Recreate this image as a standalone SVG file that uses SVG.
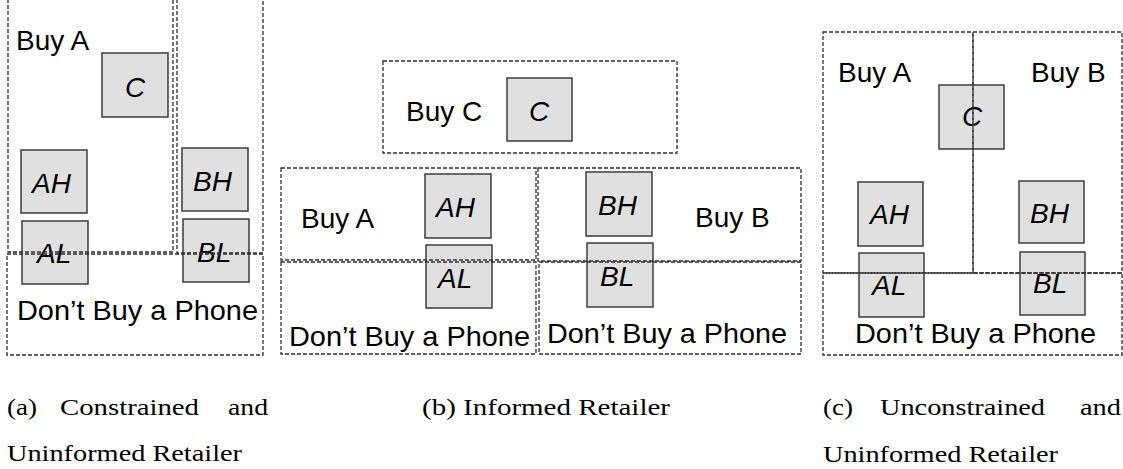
<svg xmlns="http://www.w3.org/2000/svg" width="1123" height="469" viewBox="0 0 1123 469">
<style>
.r{fill:none;stroke:#2e2e2e;stroke-width:1.3;stroke-dasharray:4 2}
.n{fill:#e0e0e0;stroke:#3c3c3c;stroke-width:1.5}
.t{font-family:"Liberation Sans",Arial,sans-serif;font-size:28px;fill:#000}
.i{font-family:"Liberation Sans",Arial,sans-serif;font-size:28px;font-style:italic;fill:#000}
.c{font-family:"Liberation Serif","Times New Roman",serif;font-size:24px;fill:#000}
</style>
<rect width="1123" height="469" fill="#fff"/>
<g id="connectors"/>

<!-- Panel (a) nodes -->
<g id="a-C"><rect class="n" x="102" y="53" width="66" height="64"/><text class="i" x="135" y="97" text-anchor="middle">C</text></g>
<g id="a-AH"><rect class="n" x="21" y="150" width="66" height="63"/><text class="i" x="32" y="193">AH</text></g>
<g id="a-BH"><rect class="n" x="182" y="148" width="66" height="63"/><text class="i" x="193" y="191">BH</text></g>
<g id="a-AL"><rect class="n" x="22" y="221" width="66" height="63"/><text class="i" x="37" y="263">AL</text></g>
<g id="a-BL"><rect class="n" x="183" y="219" width="66" height="63"/><text class="i" x="197" y="262">BL</text></g>
<!-- Panel (a) regions -->
<g id="a-buyA"><rect class="r" x="8" y="-3" width="165" height="255"/><text class="t" x="16" y="50">Buy A</text></g>
<g id="a-buyB"><rect class="r" x="177" y="-3" width="86" height="256"/></g>
<g id="a-dont"><rect class="r" x="7" y="254" width="256" height="101"/><text class="t" x="17" y="320" textLength="241" lengthAdjust="spacingAndGlyphs">Don’t Buy a Phone</text></g>

<!-- Panel (b) nodes -->
<g id="b-C"><rect class="n" x="507" y="78" width="65" height="63"/><text class="i" x="539" y="121" text-anchor="middle">C</text></g>
<g id="b-AH"><rect class="n" x="425" y="174" width="66" height="64"/><text class="i" x="436" y="217">AH</text></g>
<g id="b-AL"><rect class="n" x="426" y="245" width="66" height="63"/><text class="i" x="438" y="288">AL</text></g>
<g id="b-BH"><rect class="n" x="586" y="172" width="66" height="64"/><text class="i" x="598" y="215">BH</text></g>
<g id="b-BL"><rect class="n" x="587" y="243" width="66" height="64"/><text class="i" x="600" y="286">BL</text></g>
<!-- Panel (b) regions -->
<g id="b-buyC"><rect class="r" x="383" y="61" width="294" height="92"/><text class="t" x="406" y="121">Buy C</text></g>
<g id="b-buyA"><rect class="r" x="281" y="168" width="255" height="92"/><text class="t" x="301" y="228">Buy A</text></g>
<g id="b-buyB"><rect class="r" x="538" y="168" width="263" height="93"/><text class="t" x="695" y="227">Buy B</text></g>
<g id="b-dontA"><rect class="r" x="281" y="262" width="255" height="92"/><text class="t" x="289" y="346" textLength="241" lengthAdjust="spacingAndGlyphs">Don’t Buy a Phone</text></g>
<g id="b-dontB"><rect class="r" x="539" y="262" width="262" height="92"/><text class="t" x="547" y="343" textLength="240" lengthAdjust="spacingAndGlyphs">Don’t Buy a Phone</text></g>

<!-- Panel (c) nodes -->
<g id="c-C"><rect class="n" x="939" y="85" width="65" height="64"/><text class="i" x="972" y="126" text-anchor="middle">C</text></g>
<g id="c-AH"><rect class="n" x="858" y="182" width="65" height="64"/><text class="i" x="870" y="224">AH</text></g>
<g id="c-BH"><rect class="n" x="1019" y="181" width="65" height="62"/><text class="i" x="1030" y="223">BH</text></g>
<g id="c-AL"><rect class="n" x="859" y="253" width="65" height="64"/><text class="i" x="872" y="295">AL</text></g>
<g id="c-BL"><rect class="n" x="1020" y="252" width="65" height="63"/><text class="i" x="1033" y="293">BL</text></g>
<!-- Panel (c) regions -->
<g id="c-buyA"><rect class="r" x="823" y="32" width="150" height="241"/><text class="t" x="838" y="82">Buy A</text></g>
<g id="c-buyB"><rect class="r" x="973" y="32" width="149" height="241"/><text class="t" x="1031" y="82">Buy B</text></g>
<g id="c-dont"><rect class="r" x="823" y="273" width="299" height="82"/><text class="t" x="855" y="343" textLength="241" lengthAdjust="spacingAndGlyphs">Don’t Buy a Phone</text></g>

<!-- Captions -->
<g id="captions">
<text class="c" x="7" y="415" textLength="30" lengthAdjust="spacingAndGlyphs">(a)</text>
<text class="c" x="60" y="415" textLength="139" lengthAdjust="spacingAndGlyphs">Constrained</text>
<text class="c" x="228" y="415" textLength="40" lengthAdjust="spacingAndGlyphs">and</text>
<text class="c" x="7" y="461" textLength="235" lengthAdjust="spacingAndGlyphs">Uninformed Retailer</text>
<text class="c" x="422" y="415" textLength="248" lengthAdjust="spacingAndGlyphs">(b) Informed Retailer</text>
<text class="c" x="823" y="415" textLength="30" lengthAdjust="spacingAndGlyphs">(c)</text>
<text class="c" x="880" y="415" textLength="165" lengthAdjust="spacingAndGlyphs">Unconstrained</text>
<text class="c" x="1080" y="415" textLength="41" lengthAdjust="spacingAndGlyphs">and</text>
<text class="c" x="823" y="462" textLength="235" lengthAdjust="spacingAndGlyphs">Uninformed Retailer</text>
</g>
</svg>
